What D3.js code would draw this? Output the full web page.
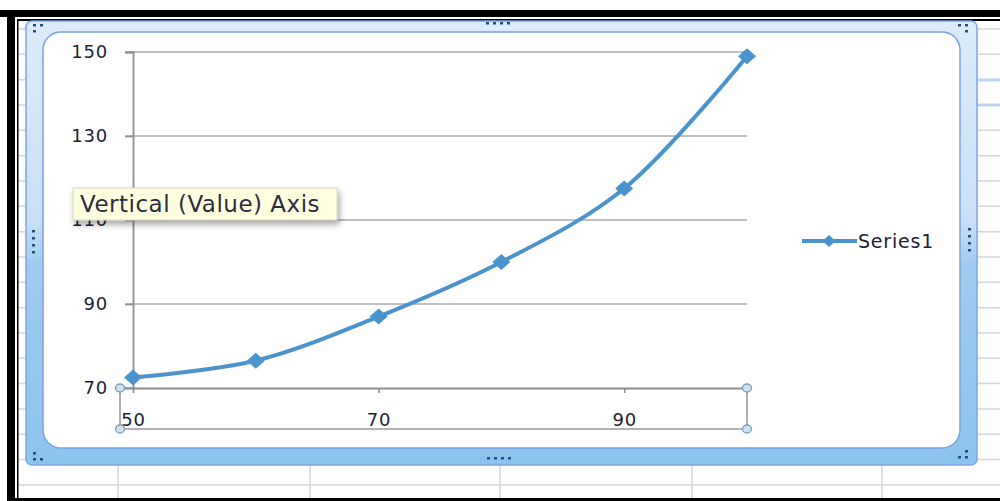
<!DOCTYPE html>
<html lang="en">
  <head>
    <meta charset="UTF-8" />
    <title>Series1 chart</title>
    <script src="https://d3js.org/d3.v7.min.js"></script>
    <style>
      body {
        margin: 0;
        padding: 0;
        background: #ffffff;
        overflow: hidden;
      }
      text {
        font-family: "DejaVu Sans", sans-serif;
      }
    </style>
  </head>
  <body>
    <svg id="chart" width="1000" height="501"></svg>

    <script>
      // chart values
      var xValues = [50, 60, 70, 80, 90, 100];
      var yValues = [72.5, 76.5, 87, 100, 117.5, 149];
      var xTicks = [50, 70, 90];
      var yTicks = [70, 90, 110, 130, 150];
      var seriesName = "Series1";
      var tooltipLabel = "Vertical (Value) Axis";

      var svg = d3.select("#chart");
      var defs = svg.append("defs");

      // frame gradient (light at top, deeper blue at bottom)
      var grad = defs
        .append("linearGradient")
        .attr("id", "frame-grad")
        .attr("x1", 0)
        .attr("y1", 0)
        .attr("x2", 0)
        .attr("y2", 1);
      grad.append("stop").attr("offset", "0%").attr("stop-color", "#dcebfa");
      grad.append("stop").attr("offset", "45%").attr("stop-color", "#c9e0f6");
      grad.append("stop").attr("offset", "55%").attr("stop-color", "#9fcbee");
      grad.append("stop").attr("offset", "100%").attr("stop-color", "#8ec3ec");

      var shadow = defs
        .append("filter")
        .attr("id", "tip-shadow")
        .attr("x", "-10%")
        .attr("y", "-30%")
        .attr("width", "130%")
        .attr("height", "190%");
      shadow
        .append("feDropShadow")
        .attr("dx", 2)
        .attr("dy", 4)
        .attr("stdDeviation", 3)
        .attr("flood-color", "#000")
        .attr("flood-opacity", 0.35);

      // spreadsheet grid behind the chart
      var sheet = svg.append("g");
      d3.range(0, 19).forEach(function (i) {
        var y = 29 + i * 25.33;
        sheet
          .append("line")
          .attr("x1", 18)
          .attr("x2", 1000)
          .attr("y1", y)
          .attr("y2", y)
          .attr("stroke", "#d6d6d6")
          .attr("stroke-width", 1.5);
      });
      [118, 310, 500, 692, 882].forEach(function (x) {
        sheet
          .append("line")
          .attr("x1", x)
          .attr("x2", x)
          .attr("y1", 21)
          .attr("y2", 498)
          .attr("stroke", "#d6d6d6")
          .attr("stroke-width", 1.5);
      });
      [80, 105].forEach(function (y) {
        sheet
          .append("line")
          .attr("x1", 977)
          .attr("x2", 1000)
          .attr("y1", y)
          .attr("y2", y)
          .attr("stroke", "#bcd6f2")
          .attr("stroke-width", 3);
      });

      // black border of the screenshot
      svg.append("rect").attr("x", 0).attr("y", 10).attr("width", 1000).attr("height", 7).attr("fill", "#000");
      svg.append("rect").attr("x", 17).attr("y", 19).attr("width", 983).attr("height", 2).attr("fill", "#000");
      svg.append("rect").attr("x", 7).attr("y", 10).attr("width", 8).attr("height", 491).attr("fill", "#000");
      svg.append("rect").attr("x", 17).attr("y", 19).attr("width", 1.5).attr("height", 482).attr("fill", "#000");
      svg.append("rect").attr("x", 7).attr("y", 498).attr("width", 993).attr("height", 3).attr("fill", "#000");

      // chart frame
      svg
        .append("rect")
        .attr("x", 26)
        .attr("y", 21)
        .attr("width", 951)
        .attr("height", 444)
        .attr("rx", 6)
        .attr("fill", "url(#frame-grad)")
        .attr("stroke", "#7ea5e4")
        .attr("stroke-width", 1.5);
      svg
        .append("rect")
        .attr("x", 43)
        .attr("y", 32)
        .attr("width", 917)
        .attr("height", 416)
        .attr("rx", 18)
        .attr("fill", "#ffffff")
        .attr("stroke", "#7aa2e2")
        .attr("stroke-width", 1.5);

      // frame handles
      var handleColor = "#1f4f86";
      function dots(points) {
        points.forEach(function (p) {
          svg
            .append("rect")
            .attr("x", p[0])
            .attr("y", p[1])
            .attr("width", 3)
            .attr("height", 2.5)
            .attr("fill", handleColor);
        });
      }
      dots([[33, 24], [40, 24], [33, 30]]);
      dots([[958, 24], [965, 24], [965, 30]]);
      dots([[33, 452], [33, 458], [40, 458]]);
      dots([[965, 450], [958, 456], [965, 456]]);
      dots([[486, 22], [493, 22], [500, 22], [507, 22]]);
      dots([[487, 457], [494, 457], [501, 457], [508, 457]]);
      dots([[32, 230], [32, 237], [32, 244], [32, 251]]);
      dots([[968, 228], [968, 235], [968, 242], [968, 249]]);

      // scales
      var x = d3.scaleLinear().domain([50, 100]).range([133, 747]);
      var y = d3.scaleLinear().domain([70, 150]).range([388, 52]);
      var labelColor = "#1c1e34";

      // gridlines
      svg
        .append("g")
        .selectAll("line")
        .data(yTicks.slice(1))
        .enter()
        .append("line")
        .attr("x1", x(50) - 8)
        .attr("x2", x(100))
        .attr("y1", function (d) { return y(d); })
        .attr("y2", function (d) { return y(d); })
        .attr("stroke", "#ababab")
        .attr("stroke-width", 1.6);

      // y axis
      var yAxis = svg
        .append("g")
        .attr("transform", "translate(" + x(50) + ",0)")
        .call(d3.axisLeft(y).tickValues(yTicks).tickSize(8).tickPadding(17));
      yAxis.select(".domain").attr("stroke", "#8e8e8e").attr("stroke-width", 1.8);
      yAxis.selectAll(".tick line").attr("stroke", "#8e8e8e").attr("stroke-width", 1.6);
      yAxis
        .selectAll(".tick text")
        .attr("fill", labelColor)
        .attr("font-size", "18px")
        .attr("font-family", "DejaVu Sans")
        .attr("letter-spacing", "0.8px");

      // horizontal axis selection box
      var sel = svg.append("g").attr("stroke", "#9a9a9a").attr("stroke-width", 1.6).attr("fill", "none");
      sel.append("line").attr("x1", 120).attr("x2", x(50)).attr("y1", y(70)).attr("y2", y(70));
      sel.append("line").attr("x1", 120).attr("x2", 120).attr("y1", y(70)).attr("y2", 429);
      sel.append("line").attr("x1", x(100)).attr("x2", x(100)).attr("y1", y(70)).attr("y2", 429);
      sel.append("line").attr("x1", 120).attr("x2", x(100)).attr("y1", 429).attr("y2", 429);

      // x axis
      var xAxis = svg
        .append("g")
        .attr("transform", "translate(0," + y(70) + ")")
        .call(d3.axisBottom(x).tickValues(xTicks).tickSize(5).tickPadding(20).tickSizeOuter(0));
      xAxis.select(".domain").attr("stroke", "#8e8e8e").attr("stroke-width", 1.8);
      xAxis.selectAll(".tick line").attr("stroke", "#8e8e8e").attr("stroke-width", 1.6);
      xAxis
        .selectAll(".tick text")
        .attr("fill", labelColor)
        .attr("font-size", "18px")
        .attr("font-family", "DejaVu Sans")
        .attr("letter-spacing", "0.8px");

      // selection handles
      [[120, y(70)], [120, 429], [x(100), y(70)], [x(100), 429]].forEach(function (p) {
        svg
          .append("ellipse")
          .attr("cx", p[0])
          .attr("cy", p[1])
          .attr("rx", 4.5)
          .attr("ry", 4)
          .attr("fill", "#cfe0ef")
          .attr("stroke", "#7b9cbc")
          .attr("stroke-width", 1.3);
      });

      // the series
      var seriesColor = "#4a93cc";
      var points = xValues.map(function (d, i) {
        return [d, yValues[i]];
      });
      var line = d3
        .line()
        .x(function (d) { return x(d[0]); })
        .y(function (d) { return y(d[1]); })
        .curve(d3.curveCatmullRom.alpha(0.5));

      svg
        .append("path")
        .datum(points)
        .attr("d", line)
        .attr("fill", "none")
        .attr("stroke", seriesColor)
        .attr("stroke-width", 4);

      var diamond = "M0,-8L9,0L0,8L-9,0Z";
      svg
        .append("g")
        .selectAll("path")
        .data(points)
        .enter()
        .append("path")
        .attr("d", diamond)
        .attr("transform", function (d) {
          return "translate(" + x(d[0]) + "," + y(d[1]) + ")";
        })
        .attr("fill", seriesColor);

      // legend
      var legend = svg.append("g").attr("transform", "translate(802,241)");
      legend
        .append("line")
        .attr("x1", 0)
        .attr("x2", 55)
        .attr("stroke", seriesColor)
        .attr("stroke-width", 4);
      legend
        .append("path")
        .attr("d", "M0,-6L6.5,0L0,6L-6.5,0Z")
        .attr("transform", "translate(27,0)")
        .attr("fill", seriesColor);
      legend
        .append("text")
        .attr("x", 56)
        .attr("y", 0)
        .attr("dy", "0.36em")
        .attr("font-size", "19px")
        .attr("letter-spacing", "0.8px")
        .attr("fill", labelColor)
        .text(seriesName);

      // tooltip over the value axis
      var tip = svg.append("g").attr("transform", "translate(73,188)");
      tip
        .append("rect")
        .attr("width", 264)
        .attr("height", 32)
        .attr("fill", "#ffffdf")
        .attr("stroke", "#d9d9c2")
        .attr("stroke-width", 1)
        .attr("filter", "url(#tip-shadow)");
      tip
        .append("text")
        .attr("x", 7)
        .attr("y", 16)
        .attr("dy", "0.36em")
        .attr("font-size", "23px")
        .attr("letter-spacing", "0.5px")
        .attr("fill", "#2b2d40")
        .text(tooltipLabel);
    </script>
  </body>
</html>
